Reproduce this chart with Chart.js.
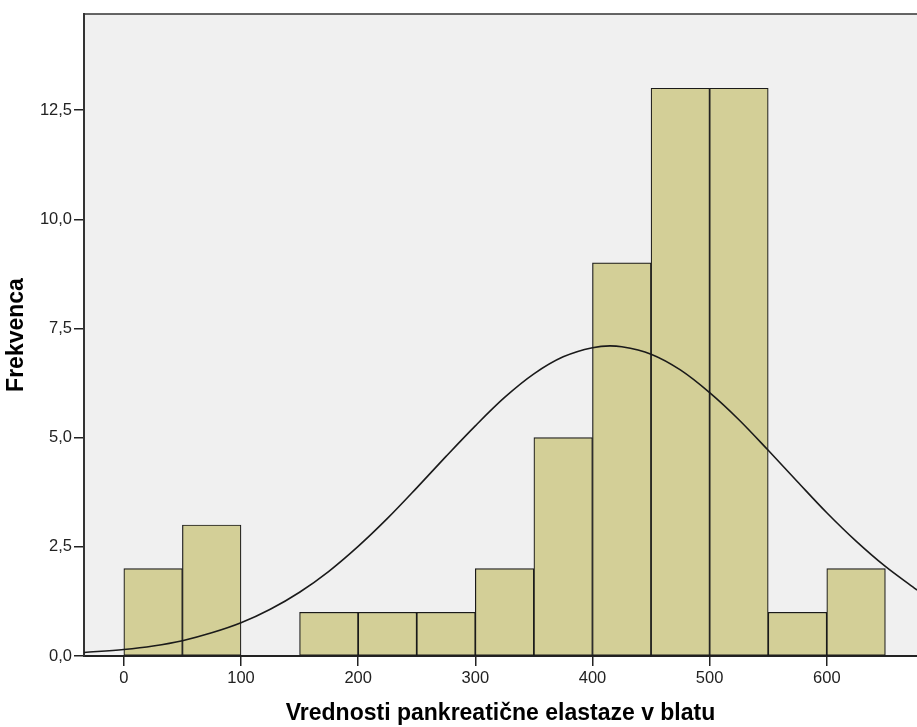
<!DOCTYPE html>
<html>
<head>
<meta charset="utf-8">
<script src="https://cdn.jsdelivr.net/npm/chart.js@4.4.0/dist/chart.umd.min.js"></script>
<style>
  html, body { margin: 0; padding: 0; background: #ffffff; }
  #wrap { width: 917px; height: 727px; }
</style>
</head>
<body>
<div id="wrap"><canvas id="c" width="917" height="727"></canvas></div>
<script>
// Histogram bins (left edges, width 50) and frequencies
const binStarts = [0, 50, 100, 150, 200, 250, 300, 350, 400, 450, 500, 550, 600];
const binWidth = 50;
const frequencies = [2, 3, 0, 1, 1, 1, 2, 5, 9, 13, 13, 1, 2];

// Normal curve
const curveX = [-34, 0, 25, 50, 75, 100, 125, 150, 175, 200, 225, 250, 275, 300, 325, 350, 375, 400, 415, 425, 450, 475, 500, 525, 550, 575, 600, 625, 650, 675, 677];
const curveY = [0.08, 0.15, 0.23, 0.35, 0.53, 0.76, 1.07, 1.46, 1.94, 2.51, 3.15, 3.85, 4.57, 5.27, 5.92, 6.46, 6.85, 7.06, 7.10, 7.08, 6.91, 6.55, 6.03, 5.41, 4.71, 3.99, 3.28, 2.63, 2.05, 1.55, 1.51];

// Axis ticks
const xTicks = [0, 100, 200, 300, 400, 500, 600];
const yTicks = [0, 2.5, 5, 7.5, 10, 12.5];
const yTickLabels = ["0,0", "2,5", "5,0", "7,5", "10,0", "12,5"];

const xTitle = "Vrednosti pankreatične elastaze v blatu";
const yTitle = "Frekvenca";

const barData = binStarts.map((s, i) => ({ x: s + binWidth / 2, y: frequencies[i] }));
const lineData = curveX.map((x, i) => ({ x: x, y: curveY[i] }));

const frame = {
  id: 'frame',
  beforeDraw(chart) {
    const { ctx, chartArea: a } = chart;
    ctx.save();
    ctx.fillStyle = '#f0f0f0';
    ctx.fillRect(a.left, a.top, a.right - a.left, a.bottom - a.top);
    ctx.restore();
  },
  afterDraw(chart) {
    const { ctx, chartArea: a } = chart;
    ctx.save();
    ctx.strokeStyle = '#333333';
    ctx.lineWidth = 1.5;
    ctx.beginPath();
    ctx.moveTo(a.left, a.top);
    ctx.lineTo(a.right, a.top);
    ctx.stroke();
    ctx.restore();
  }
};

const tickFont = { family: "'Liberation Sans', Arial, sans-serif", size: 16.5 };
const titleFont = { family: "'Liberation Sans', Arial, sans-serif", size: 23, weight: 'bold' };

new Chart(document.getElementById('c'), {
  type: 'bar',
  data: {
    datasets: [
      {
        type: 'line',
        data: lineData,
        borderColor: '#1a1a1a',
        borderWidth: 1.6,
        pointRadius: 0,
        fill: false,
        cubicInterpolationMode: 'monotone',
        order: 0
      },
      {
        type: 'bar',
        data: barData,
        backgroundColor: '#d3cf97',
        borderColor: '#1a1a1a',
        borderWidth: 1.2,
        borderSkipped: false,
        barPercentage: 1,
        categoryPercentage: 1,
        order: 1
      }
    ]
  },
  options: {
    responsive: false,
    animation: false,
    layout: { padding: { top: 14, right: 0, left: 0, bottom: 0 } },
    plugins: { legend: { display: false }, tooltip: { enabled: false } },
    scales: {
      x: {
        type: 'linear',
        min: -34,
        max: 677,
        offset: false,
        afterBuildTicks(scale) { scale.ticks = xTicks.map(v => ({ value: v })); },
        afterFit(scale) { scale.height = 71; },
        ticks: { color: '#222', font: tickFont, padding: 3, maxRotation: 0, callback: v => String(v) },
        grid: { offset: false, drawOnChartArea: false, drawTicks: true, tickLength: 10, tickColor: '#222', lineWidth: 1.5 },
        border: { display: true, color: '#222', width: 2 },
        title: { display: true, text: xTitle, font: titleFont, color: '#000', padding: { top: 0, bottom: 0 } }
      },
      y: {
        type: 'linear',
        min: 0,
        max: 14.7,
        afterBuildTicks(scale) { scale.ticks = yTicks.map(v => ({ value: v })); },
        afterFit(scale) { scale.width = 84; },
        ticks: { color: '#222', font: tickFont, padding: 2, callback: (v) => yTickLabels[yTicks.indexOf(v)] },
        grid: { drawOnChartArea: false, drawTicks: true, tickLength: 10, tickColor: '#222', lineWidth: 1.5 },
        border: { display: true, color: '#333', width: 2 },
        title: { display: true, text: yTitle, font: titleFont, color: '#000', padding: { top: 3, bottom: 0 } }
      }
    }
  },
  plugins: [frame]
});
</script>
</body>
</html>
